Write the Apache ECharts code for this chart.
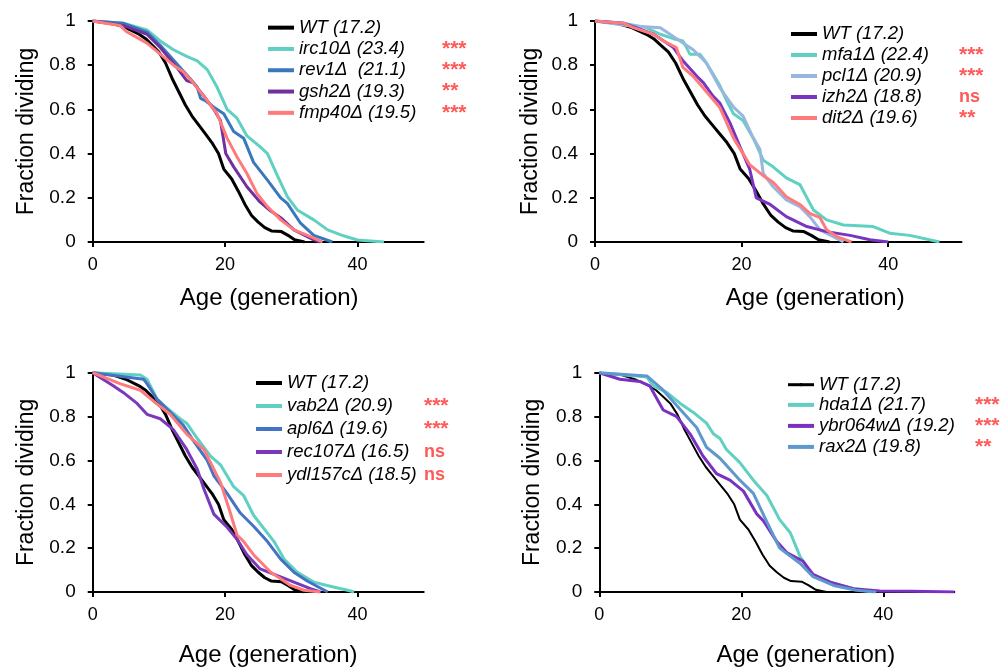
<!DOCTYPE html>
<html>
<head>
<meta charset="utf-8">
<script src="https://cdn.jsdelivr.net/npm/echarts@6/dist/echarts.min.js"></script>
<style>
html,body{margin:0;padding:0;background:#fff;}
#chart{width:1003px;height:668px;}
</style>
</head>
<body>
<div id="chart"></div>
<script>
// ---------- data (age in generations, fraction dividing) ----------
const wt = [[0,1],[3,0.99],[5,0.97],[7,0.94],[8,0.92],[9,0.89],[10,0.86],[11,0.81],[12,0.74],[13,0.68],[14,0.62],[15,0.57],[16,0.53],[17,0.49],[18,0.45],[19,0.4],[19.8,0.33],[21,0.285],[22,0.23],[23,0.17],[24,0.12],[25,0.09],[26,0.065],[27,0.05],[28.5,0.047],[29.5,0.03],[30.5,0.01],[32,0]];

// panel A
const irc10 = [[0,1],[4.6,0.99],[8.2,0.96],[10.2,0.91],[12.2,0.87],[14.2,0.84],[15.8,0.82],[17.3,0.78],[18.8,0.70],[20.3,0.60],[21.8,0.56],[23.3,0.48],[25.3,0.43],[26.4,0.40],[27.9,0.30],[29.4,0.205],[30.9,0.145],[33.4,0.10],[35.5,0.055],[38,0.027],[40,0.009],[44,0]];
const rev1 = [[0,1],[4.6,0.99],[8.2,0.95],[10.2,0.89],[11.7,0.84],[13.2,0.79],[14.7,0.74],[15.8,0.70],[16.3,0.65],[17,0.64],[18.3,0.61],[19.8,0.58],[21.3,0.50],[22.8,0.47],[24.3,0.36],[26.4,0.28],[28.4,0.20],[29.4,0.175],[31.4,0.085],[33.4,0.03],[36.2,0]];
const gsh2 = [[0,1],[4.6,0.98],[8.2,0.94],[10.2,0.88],[12.7,0.79],[14.2,0.73],[15.2,0.72],[16.8,0.66],[18.3,0.60],[19.3,0.55],[20.1,0.40],[21.3,0.34],[23.3,0.25],[25.3,0.18],[26.9,0.14],[28.4,0.11],[30.4,0.055],[33.4,0.01],[34.4,0]];
const fmp40 = [[0,1],[2,0.99],[4.1,0.98],[5.2,0.95],[8.2,0.90],[10.2,0.85],[12.2,0.80],[13.7,0.77],[15.2,0.72],[17.3,0.64],[18.8,0.58],[20.3,0.47],[21.8,0.385],[23.3,0.31],[24.8,0.22],[26.4,0.16],[28.4,0.10],[30.4,0.055],[32.9,0.024],[34.7,0]];

// panel B
const mfa1 = [[0,1],[3.9,0.99],[7,0.97],[8.9,0.94],[10.7,0.92],[12,0.91],[12.95,0.85],[14.3,0.85],[15.2,0.81],[16.1,0.76],[17,0.71],[17.95,0.64],[18.9,0.58],[20.2,0.55],[21.6,0.47],[22.95,0.37],[24.3,0.34],[26.1,0.29],[27.95,0.26],[29.8,0.145],[31.6,0.10],[33.9,0.077],[37.95,0.07],[40.2,0.04],[42.95,0.03],[47,0]];
const pcl1 = [[0,1],[4.3,0.98],[8.9,0.97],[11.6,0.91],[13.4,0.87],[15.2,0.81],[17,0.70],[18.9,0.61],[20.2,0.57],[21.6,0.47],[22.5,0.42],[22.95,0.31],[24.3,0.25],[26.1,0.19],[27.95,0.16],[29.3,0.115],[30.7,0.055],[32.5,0.024],[33.9,0]];
const izh2 = [[0,1],[3.9,0.99],[8,0.94],[10.7,0.88],[12,0.82],[13.9,0.75],[14.8,0.72],[16.1,0.66],[17,0.63],[18.4,0.54],[19.8,0.43],[21.1,0.33],[22,0.20],[23.9,0.17],[26.1,0.115],[28.9,0.07],[31.6,0.047],[34.8,0.03],[37.5,0.01],[40,0]];
const dit2 = [[0,1],[3.9,0.99],[5.2,0.97],[8,0.94],[9.3,0.91],[11.1,0.88],[12,0.79],[13.4,0.75],[15.2,0.68],[17,0.61],[18.9,0.47],[20.2,0.40],[21.1,0.35],[22.95,0.30],[24.3,0.27],[26.1,0.205],[27.95,0.17],[29.3,0.13],[30.7,0.11],[31.6,0.055],[33,0.024],[35,0]];

// panel C
const vab2 = [[0,1],[7.2,0.99],[8.2,0.97],[9.7,0.88],[11.2,0.84],[13.2,0.79],[14.2,0.77],[15.8,0.70],[17.8,0.62],[19.3,0.58],[21.3,0.48],[22.8,0.44],[24.3,0.35],[27.4,0.23],[28.9,0.15],[30.9,0.09],[33.4,0.045],[35.4,0.03],[38.5,0.008],[39.5,0]];
const apl6 = [[0,1],[7.7,0.97],[8.2,0.95],[9.7,0.88],[11.7,0.82],[13.7,0.76],[15.2,0.69],[17.3,0.60],[18.3,0.53],[20.3,0.45],[22.3,0.36],[24.3,0.30],[26.4,0.23],[28.4,0.15],[30.4,0.09],[32.4,0.05],[35.5,0]];
const rec107 = [[0,1],[3.1,0.94],[4.6,0.91],[6.7,0.86],[8.2,0.81],[10.2,0.79],[12.2,0.74],[14.2,0.65],[15.8,0.56],[16.8,0.47],[18.3,0.355],[20.3,0.295],[21.8,0.24],[23.3,0.17],[25.3,0.105],[27.9,0.075],[30.4,0.045],[32.9,0.015],[34.4,0]];
const ydl157c = [[0,1],[4.1,0.95],[7.2,0.92],[9.2,0.87],[11.7,0.81],[14.2,0.72],[16.8,0.65],[18.3,0.56],[19.3,0.50],[20.8,0.36],[21.8,0.26],[22.8,0.23],[24.3,0.17],[26.9,0.09],[29.9,0.03],[31.9,0.008],[34.4,0]];

// panel D
const hda1 = [[0,1],[6.7,0.98],[7.6,0.94],[9.5,0.91],[11.4,0.86],[13.2,0.82],[15.1,0.77],[16.1,0.72],[17,0.70],[17.9,0.65],[19.8,0.59],[21.7,0.51],[23.6,0.44],[25.4,0.33],[26.9,0.27],[28.3,0.16],[30.1,0.075],[33,0.04],[35.8,0.015],[38.6,0]];
const ybr064w = [[0,1],[2.9,0.97],[5.7,0.96],[7.1,0.94],[9,0.83],[10.9,0.80],[12.8,0.72],[14.6,0.62],[16.5,0.54],[18.4,0.51],[20.3,0.46],[22.2,0.355],[23.1,0.325],[25,0.23],[26.4,0.18],[28.7,0.14],[30.1,0.08],[32.5,0.045],[35.8,0.015],[39.5,0.005],[44,0.003],[50,0]];
const rax2 = [[0,1],[6.7,0.985],[9,0.92],[10.9,0.85],[13.7,0.75],[15.1,0.66],[17,0.61],[19.8,0.51],[21.7,0.45],[23.6,0.32],[25.4,0.20],[28.3,0.13],[30.1,0.07],[33,0.03],[36.2,0.008],[39,0]];

// labels
const xTicks = [0, 20, 40];
const panelNames = [
  ['WT (17.2)', 'irc10Δ (23.4)', 'rev1Δ  (21.1)', 'gsh2Δ (19.3)', 'fmp40Δ (19.5)'],
  ['WT (17.2)', 'mfa1Δ (22.4)', 'pcl1Δ (20.9)', 'izh2Δ (18.8)', 'dit2Δ (19.6)'],
  ['WT (17.2)', 'vab2Δ (20.9)', 'apl6Δ (19.6)', 'rec107Δ (16.5)', 'ydl157cΔ (18.5)'],
  ['WT (17.2)', 'hda1Δ (21.7)', 'ybr064wΔ (19.2)', 'rax2Δ (19.8)']
];
const panelSig = [
  ['', '***', '***', '**', '***'],
  ['', '***', '***', 'ns', '**'],
  ['', '***', '***', 'ns', 'ns'],
  ['', '***', '***', '**']
];
const panelData = [
  [wt, irc10, rev1, gsh2, fmp40],
  [wt, mfa1, pcl1, izh2, dit2],
  [wt, vab2, apl6, rec107, ydl157c],
  [wt, hda1, ybr064w, rax2]
];
const panelColors = [
  ['#000000', '#5fd0c1', '#3a78be', '#7030a0', '#ff7b7b'],
  ['#000000', '#5fd0c1', '#98b6de', '#7a35c0', '#ff7b7b'],
  ['#000000', '#5fd0c1', '#4472c4', '#7a38bd', '#ff7b7b'],
  ['#000000', '#5fd0c1', '#7a30c0', '#5f98cf']
];

// ---------- layout ----------
const FONT = '"Liberation Sans", Arial, Helvetica, sans-serif';
const grids = [
  {left: 92.7, top: 21, width: 331, height: 221},
  {left: 595, top: 21, width: 366.5, height: 221},
  {left: 92.7, top: 372.7, width: 331, height: 220.7},
  {left: 599.3, top: 372.7, width: 355, height: 220.7}
];
const yNameGap = [55, 53, 55, 55];
const xNameGap = [44, 44, 51, 51];
const xNamePad = [[0,0,0,22], [0,0,0,74], [0,0,0,20], [0,0,0,58]];
const legendPos = [
  {left: 266, top: 17, lh: 21.3, w: 143},
  {left: 789, top: 23.5, lh: 21, w: 137},
  {left: 254, top: 371.5, lh: 23, w: 137},
  {left: 786, top: 375, lh: 19.4, w: 156}
];

const xAxes = [], yAxes = [], series = [], legends = [];
grids.forEach((g, i) => {
  xAxes.push({
    type: 'value', gridIndex: i, min: 0, max: 50,
    name: 'Age (generation)', nameLocation: 'middle', nameGap: xNameGap[i],
    nameTextStyle: {fontFamily: FONT, fontSize: 24, color: '#000', padding: xNamePad[i]},
    axisLine: {show: true, onZero: false, lineStyle: {color: '#000', width: 2}},
    axisTick: {show: true, length: 5, inside: false, customValues: xTicks, lineStyle: {color: '#000', width: 2}},
    axisLabel: {customValues: xTicks, margin: 14, fontFamily: FONT, fontSize: 18, color: '#000'},
    splitLine: {show: false}
  });
  yAxes.push({
    type: 'value', gridIndex: i, min: 0, max: 1, interval: 0.2,
    name: 'Fraction dividing', nameLocation: 'middle', nameGap: yNameGap[i], nameRotate: 90,
    nameTextStyle: {fontFamily: FONT, fontSize: 23, color: '#000'},
    axisLine: {show: true, onZero: false, lineStyle: {color: '#000', width: 2}},
    axisTick: {show: true, length: 5, inside: false, lineStyle: {color: '#000', width: 2}},
    axisLabel: {margin: 17, fontFamily: FONT, fontSize: 19, color: '#000',
      formatter: v => (v === 0 || v === 1) ? String(v) : v.toFixed(1)},
    splitLine: {show: false}
  });
  const names = panelNames[i];
  const sigMap = {};
  names.forEach((n, k) => sigMap[n] = panelSig[i][k]);
  names.forEach((n, k) => {
    const isWT4 = (i === 3 && k === 0);
    series.push({
      type: 'line', name: n, xAxisIndex: i, yAxisIndex: i,
      data: panelData[i][k], symbol: 'none', showSymbol: false, smooth: false,
      lineStyle: {color: panelColors[i][k], width: isWT4 ? 2 : 3},
      itemStyle: {color: panelColors[i][k]},
      z: 2 + k, animation: false
    });
  });
  const lp = legendPos[i];
  legends.push({
    orient: 'vertical', left: lp.left, top: lp.top, padding: 0, itemGap: 0,
    itemWidth: 26, itemHeight: 4, selectedMode: false,
    data: names.map((n, k) => ({name: n, lineStyle: {width: (i === 3 && k === 0) ? 3 : 4}})),
    formatter: name => {
      const s = sigMap[name];
      const style = s === 'ns' ? 'ns' : 'st';
      return s ? `{n|${name}}{${style}|${s}}` : `{n|${name}}`;
    },
    textStyle: {
      fontFamily: FONT, fontSize: 18.5, color: '#000', lineHeight: lp.lh, height: lp.lh,
      rich: {
        n: {fontFamily: FONT, fontSize: 18.5, fontStyle: 'italic', color: '#000', width: lp.w, lineHeight: lp.lh, height: lp.lh},
        st: {fontFamily: FONT, fontSize: 21, fontWeight: 'bold', color: '#ff5a5a', lineHeight: lp.lh, height: lp.lh, verticalAlign: 'bottom'},
        ns: {fontFamily: FONT, fontSize: 18, fontWeight: 'bold', color: '#ff5a5a', lineHeight: lp.lh, height: lp.lh}
      }
    }
  });
});

const chart = echarts.init(document.getElementById('chart'), null, {renderer: 'canvas'});
chart.setOption({
  animation: false,
  backgroundColor: '#fff',
  grid: grids,
  xAxis: xAxes,
  yAxis: yAxes,
  legend: legends,
  series: series
});
</script>
</body>
</html>
